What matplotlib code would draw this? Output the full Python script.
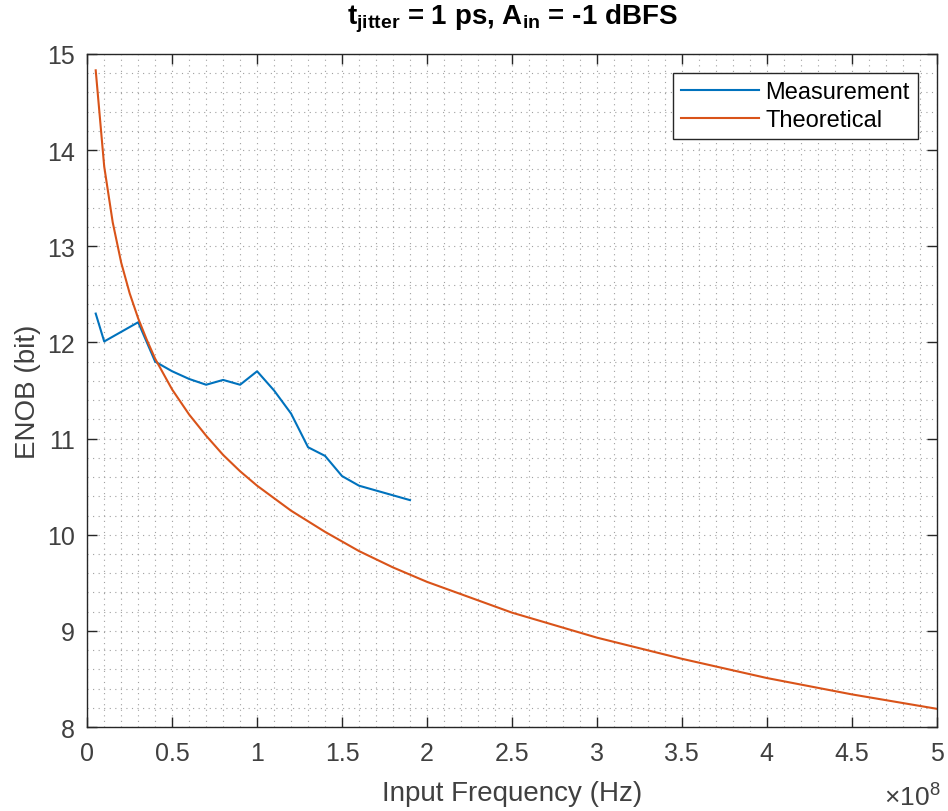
import numpy as np
import matplotlib
matplotlib.use('Agg')
import matplotlib.pyplot as plt
from matplotlib.ticker import MultipleLocator, FuncFormatter

plt.rcParams['font.family'] = ['Liberation Sans', 'DejaVu Sans']
plt.rcParams['mathtext.fontset'] = 'custom'
plt.rcParams['mathtext.rm'] = 'Liberation Sans'
plt.rcParams['mathtext.bf'] = 'Liberation Sans:bold'

# Input frequency in units of 1e8 Hz
meas_freq = [0.05, 0.1, 0.2, 0.3, 0.4, 0.5, 0.6, 0.7, 0.8, 0.9, 1.0,
             1.1, 1.2, 1.3, 1.4, 1.5, 1.6, 1.7, 1.8, 1.9]
meas_enob = [12.30, 12.01, 12.11, 12.21, 11.80, 11.70, 11.62, 11.56, 11.61, 11.56, 11.70,
             11.50, 11.26, 10.91, 10.82, 10.61, 10.51, 10.46, 10.41, 10.36]

theo_freq = [0.05, 0.1, 0.15, 0.2, 0.25, 0.3, 0.35, 0.4, 0.5, 0.6, 0.7, 0.8, 0.9, 1.0,
             1.2, 1.4, 1.6, 1.8, 2.0, 2.5, 3.0, 3.5, 4.0, 4.5, 5.0]
theo_enob = [14.83, 13.83, 13.25, 12.83, 12.51, 12.25, 12.03, 11.83, 11.51, 11.25, 11.03,
             10.83, 10.66, 10.51, 10.25, 10.03, 9.83, 9.66, 9.51, 9.19, 8.93, 8.71,
             8.51, 8.34, 8.19]

blue = '#0072BD'
orange = '#D95319'
axcol = '#262626'
txtcol = '#404040'

fig = plt.figure(figsize=(9.48, 8.12), dpi=100)
ax = fig.add_axes([0.092, 0.1034, 0.896, 0.8289])

ax.plot(meas_freq, meas_enob, color=blue, lw=1.5, label='Measurement')
ax.plot(theo_freq, theo_enob, color=orange, lw=1.5, label='Theoretical')

ax.set_xlim(0, 5)
ax.set_ylim(8, 15)
ax.xaxis.set_major_locator(MultipleLocator(0.5))
ax.xaxis.set_minor_locator(MultipleLocator(0.1))
ax.yaxis.set_major_locator(MultipleLocator(1))
ax.yaxis.set_minor_locator(MultipleLocator(0.2))
ax.xaxis.set_major_formatter(FuncFormatter(lambda v, p: '%g' % v))

ax.grid(which='both', linestyle=(0, (1, 4)), color='#a0a0a0', lw=0.8)
ax.tick_params(which='major', direction='in', length=7, width=1, top=True, right=True,
               colors=axcol, labelsize=18, labelcolor=txtcol)
ax.tick_params(axis='x', which='major', pad=10)
ax.tick_params(axis='y', which='major', pad=9)
ax.tick_params(which='minor', length=0, top=True, right=True)
for s in ax.spines.values():
    s.set_color(axcol)
    s.set_linewidth(1)

ax.set_xlabel('Input Frequency (Hz)', fontsize=20, color=txtcol, labelpad=11)
ax.set_ylabel('ENOB (bit)', fontsize=20, color=txtcol, labelpad=4)
ax.set_title(r'$\mathbf{t_{jitter}}$ = 1 ps, $\mathbf{A_{in}}$ = -1 dBFS',
             fontsize=20, fontweight='bold', pad=22)
ax.text(1.004, -0.102, r'$\times10^{8}$', transform=ax.transAxes, ha='right', va='center',
        fontsize=19, color=txtcol)

leg = ax.legend(loc='upper right', fontsize=17, fancybox=False, framealpha=1,
                edgecolor=axcol, handlelength=3.3, handletextpad=0.25,
                labelspacing=0.25, borderpad=0.35, borderaxespad=0.8)
leg.get_frame().set_linewidth(1)

fig.savefig('out.png', dpi=100)
